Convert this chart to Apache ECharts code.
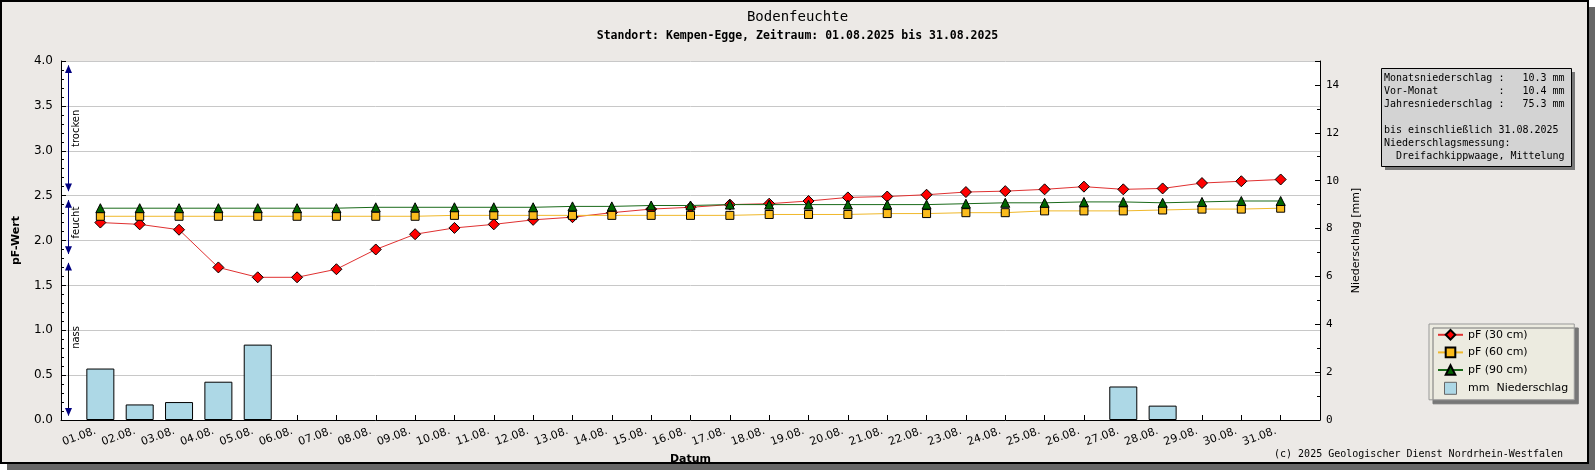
<!DOCTYPE html>
<html>
<head>
<meta charset="utf-8">
<script src="https://cdn.jsdelivr.net/npm/echarts@6/dist/echarts.min.js"></script>
<style>
  html, body { margin: 0; padding: 0; background: #fff; }
  #chartSoil { width: 1595px; height: 470px; }
</style>
</head>
<body>
<div id="chartSoil"></div>
<script>
// Tageswerte August 2025
var categories = ['01.08.', '02.08.', '03.08.', '04.08.', '05.08.', '06.08.', '07.08.', '08.08.',
    '09.08.', '10.08.', '11.08.', '12.08.', '13.08.', '14.08.', '15.08.', '16.08.', '17.08.',
    '18.08.', '19.08.', '20.08.', '21.08.', '22.08.', '23.08.', '24.08.', '25.08.', '26.08.',
    '27.08.', '28.08.', '29.08.', '30.08.', '31.08.'];
var pf30 = [2.20, 2.18, 2.12, 1.70, 1.59, 1.59, 1.68, 1.90, 2.07, 2.14, 2.18, 2.23, 2.26, 2.31, 2.35, 2.37,
    2.40, 2.41, 2.44, 2.48, 2.49, 2.51, 2.54, 2.55, 2.57, 2.60, 2.57, 2.58, 2.64, 2.66, 2.68];
var pf60 = [2.27, 2.27, 2.27, 2.27, 2.27, 2.27, 2.27, 2.27, 2.27, 2.28, 2.28, 2.28, 2.28, 2.28, 2.28, 2.28,
    2.28, 2.29, 2.29, 2.29, 2.30, 2.30, 2.31, 2.31, 2.33, 2.33, 2.33, 2.34, 2.35, 2.35, 2.36];
var pf90 = [2.36, 2.36, 2.36, 2.36, 2.36, 2.36, 2.36, 2.37, 2.37, 2.37, 2.37, 2.37, 2.38, 2.38, 2.39, 2.39,
    2.40, 2.40, 2.40, 2.40, 2.40, 2.40, 2.41, 2.42, 2.42, 2.43, 2.43, 2.42, 2.43, 2.44, 2.44];
var rain = [2.15, 0.65, 0.75, 1.6, 3.15, 0, 0, 0, 0, 0, 0, 0, 0, 0, 0, 0,
    0, 0, 0, 0, 0, 0, 0, 0, 0, 0, 1.4, 0.6, 0, 0, 0];

// Feuchtebereiche links im Diagramm
var zoneNames = ['trocken', 'feucht', 'nass'];
var zoneTop = [3.95, 2.45, 1.75];
var zoneBottom = [2.55, 1.85, 0.05];
var zoneLabelY = [3.25, 2.2, 0.92];
var zoneColors = ['#000080', '#000080', '#000000'];

// Infokasten
var infoLines = [
    'Monatsniederschlag :   10.3 mm',
    'Vor-Monat          :   10.4 mm',
    'Jahresniederschlag :   75.3 mm',
    '',
    'bis einschließlich 31.08.2025',
    'Niederschlagsmessung:',
    '  Dreifachkippwaage, Mittelung'
];

var seriesNames = ['pF (30 cm)', 'pF (60 cm)', 'pF (90 cm)', 'mm  Niederschlag'];

function toPairs(arr) {
    return arr.map(function (v, i) { return [i + 1, v]; });
}

var annoX = 0.19;
var labelX = 0.40;
var lineData = [], arrowData = [];
for (var i = 0; i < zoneNames.length; i++) {
    lineData.push([{ coord: [annoX, zoneTop[i]], lineStyle: { color: zoneColors[i] } },
        { coord: [annoX, zoneBottom[i]] }]);
    arrowData.push({ coord: [annoX, zoneTop[i] - 0.04], symbol: 'triangle', symbolSize: [7, 8], symbolRotate: 0 });
    arrowData.push({ coord: [annoX, zoneBottom[i] + 0.04], symbol: 'triangle', symbolSize: [7, 8], symbolRotate: 180 });
    arrowData.push({
        coord: [labelX, zoneLabelY[i]], symbolSize: 0,
        label: { show: true, formatter: zoneNames[i], rotate: 90, color: '#000',
            fontFamily: 'DejaVu Sans', fontSize: 10 }
    });
}

var mono = 'DejaVu Sans Mono';
var sans = 'DejaVu Sans';

var myChart = echarts.init(document.getElementById('chartSoil'));

var option = {
    animation: false,
    graphic: [
        { type: 'rect', left: 7, top: 7, z: -10, silent: true,
            shape: { width: 1588, height: 463 }, style: { fill: '#666' } },
        { type: 'rect', left: 0, top: 0, z: -9, silent: true,
            shape: { width: 1587, height: 462 }, style: { fill: '#ece9e6', stroke: '#000', lineWidth: 2 } },
        // Infokasten mit Schatten
        { type: 'rect', left: 1385, top: 72, z: 5, silent: true,
            shape: { width: 190, height: 98 }, style: { fill: '#777' } },
        { type: 'rect', left: 1381, top: 68, z: 6, silent: true,
            shape: { width: 190, height: 98 }, style: { fill: '#d3d3d3', stroke: '#000', lineWidth: 1 } },
        { type: 'text', left: 1384, top: 72, z: 7, silent: true,
            style: { text: infoLines.join('\n'), font: '10px "DejaVu Sans Mono"', fill: '#000', lineHeight: 13 } },
        { type: 'text', right: 32, top: 449, silent: true,
            style: { text: '(c) 2025 Geologischer Dienst Nordrhein-Westfalen',
                font: '10px "DejaVu Sans Mono"', fill: '#000' } }
    ],
    title: {
        text: 'Bodenfeuchte',
        subtext: 'Standort: Kempen-Egge, Zeitraum: 01.08.2025 bis 31.08.2025',
        left: 'center',
        top: 5,
        itemGap: 6,
        textStyle: { fontFamily: mono, fontSize: 14, fontWeight: 'normal', color: '#000' },
        subtextStyle: { fontFamily: mono, fontSize: 11.5, fontWeight: 'bold', color: '#000' }
    },
    legend: {
        data: [
            { name: seriesNames[0] },
            { name: seriesNames[1] },
            { name: seriesNames[2] },
            { name: seriesNames[3], icon: 'path://M0,0H10V10H0Z',
                itemStyle: { color: '#add8e6', borderColor: '#666', borderWidth: 1 } }
        ],
        orient: 'vertical',
        left: 1429,
        top: 324,
        padding: [5, 6, 5, 8],
        itemGap: 6,
        itemWidth: 25,
        itemHeight: 12,
        symbolKeepAspect: true,
        backgroundColor: '#ecebe0',
        borderColor: '#999',
        borderWidth: 1,
        shadowColor: '#777',
        shadowOffsetX: 4,
        shadowOffsetY: 4,
        shadowBlur: 0,
        textStyle: { fontFamily: sans, fontSize: 11, color: '#000' }
    },
    grid: {
        left: 61,
        right: 275,
        top: 61,
        bottom: 50,
        show: true,
        backgroundColor: '#fff',
        borderWidth: 0
    },
    xAxis: {
        type: 'value',
        min: 0,
        max: 32,
        interval: 1,
        name: 'Datum',
        nameLocation: 'middle',
        nameGap: 33,
        nameTextStyle: { fontFamily: sans, fontSize: 11, fontWeight: 'bold', color: '#000' },
        axisLine: { lineStyle: { color: '#000', width: 1 } },
        axisTick: { inside: true, length: 5, lineStyle: { color: '#000' } },
        splitLine: { show: false },
        axisLabel: {
            rotate: 20,
            margin: 9,
            padding: [0, 5, 0, 0],
            fontFamily: sans,
            fontSize: 11,
            color: '#000',
            showMinLabel: false,
            showMaxLabel: false,
            formatter: function (v) {
                return (v >= 1 && v <= categories.length) ? categories[v - 1] : '';
            }
        }
    },
    yAxis: [{
        type: 'value',
        min: 0,
        max: 4,
        interval: 0.5,
        name: 'pF-Wert',
        nameLocation: 'middle',
        nameGap: 39,
        nameTextStyle: { fontFamily: sans, fontSize: 11, fontWeight: 'bold', color: '#000' },
        axisLine: { show: true, lineStyle: { color: '#000' } },
        axisTick: { inside: true, length: 5, lineStyle: { color: '#000' } },
        minorTick: { show: true, splitNumber: 5, length: 3, lineStyle: { color: '#000' } },
        splitLine: { show: true, lineStyle: { color: '#c8c8c8' } },
        axisLabel: {
            fontFamily: sans, fontSize: 12, color: '#000', margin: 8,
            formatter: function (v) { return v.toFixed(1); }
        },
        position: 'left'
    }, {
        type: 'value',
        min: 0,
        max: 15,
        interval: 2,
        name: 'Niederschlag [mm]',
        nameLocation: 'middle',
        nameRotate: 90,
        nameGap: 31,
        nameTextStyle: { fontFamily: sans, fontSize: 11, color: '#000' },
        axisLine: { show: true, lineStyle: { color: '#000' } },
        axisTick: { inside: true, length: 5, lineStyle: { color: '#000' } },
        minorTick: { show: true, splitNumber: 2, length: 3, lineStyle: { color: '#000' } },
        splitLine: { show: false },
        axisLabel: { fontFamily: mono, fontSize: 11, color: '#000', margin: 6, showMaxLabel: false },
        position: 'right'
    }],
    series: [{
        name: seriesNames[3],
        type: 'bar',
        yAxisIndex: 1,
        barWidth: 28,
        itemStyle: { color: '#add8e6', borderColor: '#000', borderWidth: 1 },
        // Tage ohne Niederschlag werden nicht gezeichnet
        data: toPairs(rain).filter(function (d) { return d[1] > 0; }),
        z: 1
    }, {
        name: seriesNames[0],
        type: 'line',
        yAxisIndex: 0,
        symbol: 'diamond',
        symbolSize: 11,
        lineStyle: { color: '#e03030', width: 1 },
        itemStyle: { color: '#ff0000', borderColor: '#000', borderWidth: 1 },
        data: toPairs(pf30),
        z: 3,
        markLine: {
            silent: true,
            symbol: ['none', 'none'],
            label: { show: false },
            lineStyle: { type: 'solid', width: 1 },
            data: lineData
        },
        markPoint: {
            silent: true,
            itemStyle: { color: '#000080', borderWidth: 0 },
            label: { show: false },
            data: arrowData
        }
    }, {
        name: seriesNames[1],
        type: 'line',
        yAxisIndex: 0,
        symbol: 'rect',
        symbolSize: 8,
        lineStyle: { color: '#f0b82a', width: 1 },
        itemStyle: { color: '#fbbc1c', borderColor: '#000', borderWidth: 1 },
        data: toPairs(pf60),
        z: 4
    }, {
        name: seriesNames[2],
        type: 'line',
        yAxisIndex: 0,
        symbol: 'triangle',
        symbolSize: 9,
        lineStyle: { color: '#1a6a1a', width: 1 },
        itemStyle: { color: '#006400', borderColor: '#000', borderWidth: 1 },
        data: toPairs(pf90),
        z: 5
    }]
};

myChart.setOption(option);

window.onresize = function () {
    myChart.resize();
};
</script>
</body>
</html>
